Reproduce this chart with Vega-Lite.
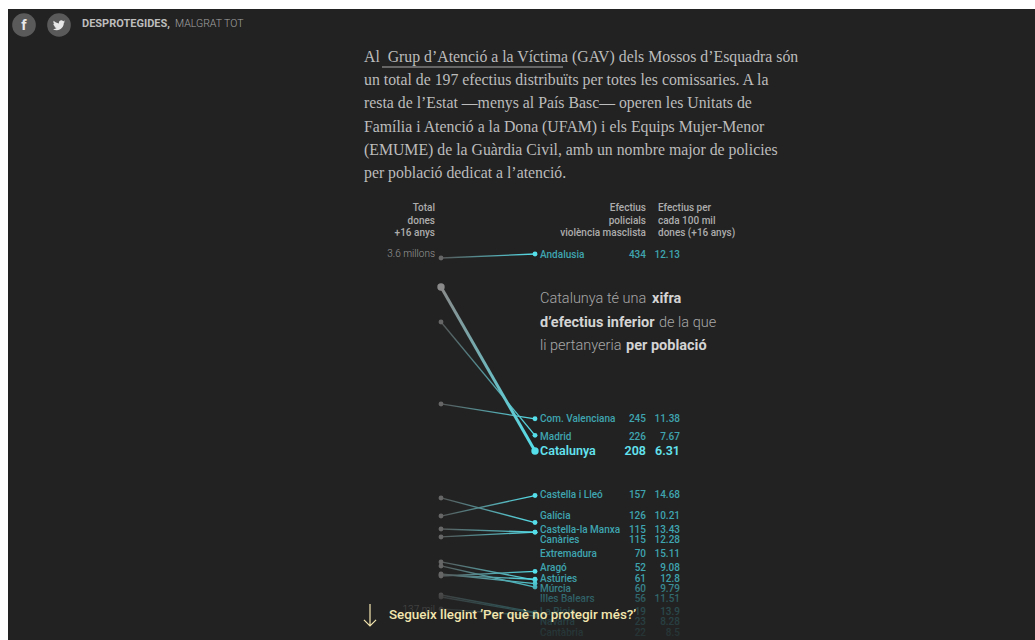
{
"$schema":"https://vega.github.io/schema/vega-lite/v6.json",
"width":1027,"height":631,"autosize":{"type":"none"},
"padding":{"left":8,"top":9,"right":0,"bottom":0},
"background":"#ffffff",
"view":{"fill":"#222222","stroke":null},
"config":{"font":"Roboto"},
"datasets":{
"comunitats":[
{"comunitat":"Andalusia","nivell_dones":429.4,"efectius":434,"taxa":"12.13","nivell_etiqueta":434},
{"comunitat":"Catalunya","nivell_dones":396.2,"efectius":208,"taxa":"6.31","nivell_etiqueta":208},
{"comunitat":"Madrid","nivell_dones":356,"efectius":226,"taxa":"7.67","nivell_etiqueta":225.3},
{"comunitat":"Com. Valenciana","nivell_dones":262,"efectius":245,"taxa":"11.38","nivell_etiqueta":246},
{"comunitat":"Castella i Lleó","nivell_dones":133.5,"efectius":157,"taxa":"14.68","nivell_etiqueta":158},
{"comunitat":"Galícia","nivell_dones":154.2,"efectius":126,"taxa":"10.21","nivell_etiqueta":134.7},
{"comunitat":"Castella-la Manxa","nivell_dones":109.5,"efectius":115,"taxa":"13.43","nivell_etiqueta":118.6},
{"comunitat":"Canàries","nivell_dones":118.6,"efectius":115,"taxa":"12.28","nivell_etiqueta":107.2},
{"comunitat":"Extremadura","nivell_dones":64.7,"efectius":70,"taxa":"15.11","nivell_etiqueta":91.1},
{"comunitat":"Aragó","nivell_dones":76.2,"efectius":52,"taxa":"9.08","nivell_etiqueta":75},
{"comunitat":"Astúries","nivell_dones":65.9,"efectius":61,"taxa":"12.8","nivell_etiqueta":62.4},
{"comunitat":"Múrcia","nivell_dones":80.8,"efectius":60,"taxa":"9.79","nivell_etiqueta":51},
{"comunitat":"Illes Balears","nivell_dones":67,"efectius":56,"taxa":"11.51","nivell_etiqueta":39.5},
{"comunitat":"La Rioja","nivell_dones":26.9,"efectius":19,"taxa":"13.9","nivell_etiqueta":24.6},
{"comunitat":"Navarra","nivell_dones":42.9,"efectius":23,"taxa":"8.28","nivell_etiqueta":13},
{"comunitat":"Cantàbria","nivell_dones":40.6,"efectius":22,"taxa":"8.5","nivell_etiqueta":0.5}
],
"paragraf":[
{"linia":1,"text":"Al \u00a0Grup d’Atenció a la Víctima (GAV) dels Mossos d’Esquadra són"},
{"linia":2,"text":"un total de 197 efectius distribuïts per totes les comissaries. A la"},
{"linia":3,"text":"resta de l’Estat —menys al País Basc— operen les Unitats de"},
{"linia":4,"text":"Família i Atenció a la Dona (UFAM) i els Equips Mujer-Menor"},
{"linia":5,"text":"(EMUME) de la Guàrdia Civil, amb un nombre major de policies"},
{"linia":6,"text":"per població dedicat a l’atenció."}
]
},
"resolve":{"scale":{"x":"independent","y":"independent","color":"independent","size":"independent"}},
"layer":[
{"data":{"name":"comunitats"},
"transform":[{"filter":"datum.comunitat !== 'Catalunya'"},{"fold":["nivell_dones","efectius"],"as":["eix","nivell"]}],
"mark":{"type":"line","strokeWidth":1.3,"stroke":{"gradient":"linear","x1":0,"y1":0,"x2":1,"y2":0,"stops":[{"offset":0,"color":"#555555"},{"offset":1,"color":"#55dfea"}]}},
"encoding":{
"x":{"field":"eix","type":"nominal","axis":null,"scale":{"domain":["nivell_dones","efectius"],"range":[433,527],"padding":0}},
"y":{"field":"nivell","type":"quantitative","axis":null,"scale":{"domain":[-8.7,715],"range":[631,0],"nice":false,"zero":false}},
"detail":{"field":"comunitat"}}},
{"data":{"name":"comunitats"},
"transform":[{"filter":"datum.comunitat !== 'Catalunya'"},{"fold":["nivell_dones","efectius"],"as":["eix","nivell"]}],
"mark":{"type":"circle","size":24,"opacity":1},
"encoding":{
"x":{"field":"eix","type":"nominal","axis":null,"scale":{"domain":["nivell_dones","efectius"],"range":[433,527],"padding":0}},
"y":{"field":"nivell","type":"quantitative","axis":null,"scale":{"domain":[-8.7,715],"range":[631,0],"nice":false,"zero":false}},
"color":{"field":"eix","type":"nominal","legend":null,"scale":{"domain":["nivell_dones","efectius"],"range":["#666666","#55dfea"]}}}},
{"data":{"name":"comunitats"},
"transform":[{"filter":"datum.comunitat === 'Catalunya'"},{"fold":["nivell_dones","efectius"],"as":["eix","nivell"]}],
"mark":{"type":"line","strokeWidth":3,"stroke":{"gradient":"linear","x1":0,"y1":0,"x2":1,"y2":0,"stops":[{"offset":0,"color":"#8a8a8a"},{"offset":1,"color":"#55dfea"}]}},
"encoding":{
"x":{"field":"eix","type":"nominal","axis":null,"scale":{"domain":["nivell_dones","efectius"],"range":[433,527],"padding":0}},
"y":{"field":"nivell","type":"quantitative","axis":null,"scale":{"domain":[-8.7,715],"range":[631,0],"nice":false,"zero":false}}}},
{"data":{"name":"comunitats"},
"transform":[{"filter":"datum.comunitat === 'Catalunya'"},{"fold":["nivell_dones","efectius"],"as":["eix","nivell"]}],
"mark":{"type":"circle","size":55,"opacity":1},
"encoding":{
"x":{"field":"eix","type":"nominal","axis":null,"scale":{"domain":["nivell_dones","efectius"],"range":[433,527],"padding":0}},
"y":{"field":"nivell","type":"quantitative","axis":null,"scale":{"domain":[-8.7,715],"range":[631,0],"nice":false,"zero":false}},
"color":{"field":"eix","type":"nominal","legend":null,"scale":{"domain":["nivell_dones","efectius"],"range":["#8a8a8a","#55dfea"]}}}},
{"data":{"name":"comunitats"},
"transform":[{"filter":"datum.comunitat !== 'Catalunya'"}],
"mark":{"type":"text","align":"left","baseline":"middle","dy":0.7,"fontSize":10,"fontWeight":500,"color":"#3fa5b0"},
"encoding":{
"x":{"datum":"nom","type":"nominal","axis":null,"scale":{"domain":["nom"],"range":[532,532]}},
"y":{"field":"nivell_etiqueta","type":"quantitative","axis":null,"scale":{"domain":[-8.7,715],"range":[631,0],"nice":false,"zero":false}},
"text":{"field":"comunitat"}}},
{"data":{"name":"comunitats"},
"transform":[{"filter":"datum.comunitat !== 'Catalunya'"}],
"mark":{"type":"text","align":"right","baseline":"middle","dy":0.7,"fontSize":10,"fontWeight":500,"color":"#3fa5b0"},
"encoding":{
"x":{"datum":"efectius","type":"nominal","axis":null,"scale":{"domain":["efectius"],"range":[638,638]}},
"y":{"field":"nivell_etiqueta","type":"quantitative","axis":null,"scale":{"domain":[-8.7,715],"range":[631,0],"nice":false,"zero":false}},
"text":{"field":"efectius"}}},
{"data":{"name":"comunitats"},
"transform":[{"filter":"datum.comunitat !== 'Catalunya'"}],
"mark":{"type":"text","align":"right","baseline":"middle","dy":0.7,"fontSize":10,"fontWeight":500,"color":"#3fa5b0"},
"encoding":{
"x":{"datum":"taxa","type":"nominal","axis":null,"scale":{"domain":["taxa"],"range":[672,672]}},
"y":{"field":"nivell_etiqueta","type":"quantitative","axis":null,"scale":{"domain":[-8.7,715],"range":[631,0],"nice":false,"zero":false}},
"text":{"field":"taxa"}}},
{"data":{"name":"comunitats"},
"transform":[{"filter":"datum.comunitat === 'Catalunya'"}],
"mark":{"type":"text","align":"left","baseline":"middle","fontSize":12.5,"fontWeight":600,"color":"#62e3ef"},
"encoding":{
"x":{"datum":"nom","type":"nominal","axis":null,"scale":{"domain":["nom"],"range":[532,532]}},
"y":{"field":"nivell_etiqueta","type":"quantitative","axis":null,"scale":{"domain":[-8.7,715],"range":[631,0],"nice":false,"zero":false}},
"text":{"field":"comunitat"}}},
{"data":{"name":"comunitats"},
"transform":[{"filter":"datum.comunitat === 'Catalunya'"}],
"mark":{"type":"text","align":"right","baseline":"middle","fontSize":12.5,"fontWeight":600,"color":"#62e3ef"},
"encoding":{
"x":{"datum":"efectius","type":"nominal","axis":null,"scale":{"domain":["efectius"],"range":[638,638]}},
"y":{"field":"nivell_etiqueta","type":"quantitative","axis":null,"scale":{"domain":[-8.7,715],"range":[631,0],"nice":false,"zero":false}},
"text":{"field":"efectius"}}},
{"data":{"name":"comunitats"},
"transform":[{"filter":"datum.comunitat === 'Catalunya'"}],
"mark":{"type":"text","align":"right","baseline":"middle","fontSize":12.5,"fontWeight":600,"color":"#62e3ef"},
"encoding":{
"x":{"datum":"taxa","type":"nominal","axis":null,"scale":{"domain":["taxa"],"range":[672,672]}},
"y":{"field":"nivell_etiqueta","type":"quantitative","axis":null,"scale":{"domain":[-8.7,715],"range":[631,0],"nice":false,"zero":false}},
"text":{"field":"taxa"}}},
{"data":{"values":[{"text":"3.6 millons","nivell":434.5},{"text":"137 mil","nivell":26}]},
"mark":{"type":"text","align":"right","baseline":"middle","fontSize":10,"fontWeight":300,"color":"#9a9a9a"},
"encoding":{
"x":{"datum":"dones","type":"nominal","axis":null,"scale":{"domain":["dones"],"range":[427,427]}},
"y":{"field":"nivell","type":"quantitative","axis":null,"scale":{"domain":[-8.7,715],"range":[631,0],"nice":false,"zero":false}},
"text":{"field":"text"}}},
{"data":{"values":[{"linia":1,"text":"Total"},{"linia":2,"text":"dones"},{"linia":3,"text":"+16 anys"}]},
"mark":{"type":"text","align":"right","baseline":"middle","fontSize":10,"fontWeight":500,"color":"#adadad"},
"encoding":{
"x":{"datum":"dones","type":"nominal","axis":null,"scale":{"domain":["dones"],"range":[427,427]}},
"y":{"field":"linia","type":"ordinal","axis":null,"scale":{"domain":[1,2,3],"range":[199,224],"padding":0}},
"text":{"field":"text"}}},
{"data":{"values":[{"linia":1,"text":"Efectius"},{"linia":2,"text":"policials"},{"linia":3,"text":"violència masclista"}]},
"mark":{"type":"text","align":"right","baseline":"middle","fontSize":10,"fontWeight":500,"color":"#adadad"},
"encoding":{
"x":{"datum":"efectius","type":"nominal","axis":null,"scale":{"domain":["efectius"],"range":[638,638]}},
"y":{"field":"linia","type":"ordinal","axis":null,"scale":{"domain":[1,2,3],"range":[199,224],"padding":0}},
"text":{"field":"text"}}},
{"data":{"values":[{"linia":1,"text":"Efectius per"},{"linia":2,"text":"cada 100 mil"},{"linia":3,"text":"dones (+16 anys)"}]},
"mark":{"type":"text","align":"left","baseline":"middle","fontSize":10,"fontWeight":500,"color":"#adadad"},
"encoding":{
"x":{"datum":"taxa","type":"nominal","axis":null,"scale":{"domain":["taxa"],"range":[650,650]}},
"y":{"field":"linia","type":"ordinal","axis":null,"scale":{"domain":[1,2,3],"range":[199,224],"padding":0}},
"text":{"field":"text"}}},
{"data":{"values":[{"linia":1,"text":"Catalunya té una"},{"linia":3,"text":"li pertanyeria"}]},
"mark":{"type":"text","align":"left","baseline":"middle","fontSize":14.5,"fontWeight":300,"color":"#a8a8a8"},
"encoding":{
"x":{"datum":"nota","type":"nominal","axis":null,"scale":{"domain":["nota"],"range":[532,532]}},
"y":{"field":"linia","type":"ordinal","axis":null,"scale":{"domain":[1,2,3],"range":[290,337],"padding":0}},
"text":{"field":"text"}}},
{"data":{"values":[{"linia":2,"text":"de la que"}]},
"mark":{"type":"text","align":"left","baseline":"middle","fontSize":14.5,"fontWeight":300,"color":"#a8a8a8"},
"encoding":{
"x":{"datum":"nota","type":"nominal","axis":null,"scale":{"domain":["nota"],"range":[651,651]}},
"y":{"field":"linia","type":"ordinal","axis":null,"scale":{"domain":[1,2,3],"range":[290,337],"padding":0}},
"text":{"field":"text"}}},
{"data":{"values":[{"linia":1,"text":"xifra"}]},
"mark":{"type":"text","align":"left","baseline":"middle","fontSize":14.5,"fontWeight":700,"color":"#d4d4d4"},
"encoding":{
"x":{"datum":"nota","type":"nominal","axis":null,"scale":{"domain":["nota"],"range":[644,644]}},
"y":{"field":"linia","type":"ordinal","axis":null,"scale":{"domain":[1,2,3],"range":[290,337],"padding":0}},
"text":{"field":"text"}}},
{"data":{"values":[{"linia":2,"text":"d’efectius inferior"}]},
"mark":{"type":"text","align":"left","baseline":"middle","fontSize":14.5,"fontWeight":700,"color":"#d4d4d4"},
"encoding":{
"x":{"datum":"nota","type":"nominal","axis":null,"scale":{"domain":["nota"],"range":[532,532]}},
"y":{"field":"linia","type":"ordinal","axis":null,"scale":{"domain":[1,2,3],"range":[290,337],"padding":0}},
"text":{"field":"text"}}},
{"data":{"values":[{"linia":3,"text":"per població"}]},
"mark":{"type":"text","align":"left","baseline":"middle","fontSize":14.5,"fontWeight":700,"color":"#d4d4d4"},
"encoding":{
"x":{"datum":"nota","type":"nominal","axis":null,"scale":{"domain":["nota"],"range":[618,618]}},
"y":{"field":"linia","type":"ordinal","axis":null,"scale":{"domain":[1,2,3],"range":[290,337],"padding":0}},
"text":{"field":"text"}}},
{"data":{"name":"paragraf"},
"mark":{"type":"text","align":"left","baseline":"middle","font":"Liberation Serif","fontSize":15.8,"color":"#bcbcbc"},
"encoding":{
"x":{"datum":"text","type":"nominal","axis":null,"scale":{"domain":["text"],"range":[356,356]}},
"y":{"field":"linia","type":"ordinal","axis":null,"scale":{"domain":[1,2,3,4,5,6],"range":[48,164],"padding":0}},
"text":{"field":"text"}}},
{"data":{"values":[{"extrem":"inici"},{"extrem":"fi"}]},
"mark":{"type":"line","strokeWidth":2,"stroke":"#666666"},
"encoding":{
"x":{"field":"extrem","type":"nominal","axis":null,"scale":{"domain":["inici","fi"],"range":[374,555],"padding":0}},
"y":{"datum":"enllaç","type":"nominal","axis":null,"scale":{"domain":["enllaç"],"range":[58,58]}}}},
{"data":{"values":[{"xarxa":"facebook"},{"xarxa":"twitter"}]},
"mark":{"type":"circle","size":560,"color":"#5a5a5a","opacity":1},
"encoding":{
"x":{"field":"xarxa","type":"nominal","axis":null,"scale":{"domain":["facebook","twitter"],"range":[16,51],"padding":0}},
"y":{"datum":"capçalera","type":"nominal","axis":null,"scale":{"domain":["capçalera"],"range":[16,16]}}}},
{"data":{"values":[{"text":"f"}]},
"mark":{"type":"text","align":"center","baseline":"middle","fontSize":15,"fontWeight":700,"color":"#e8e8e8"},
"encoding":{
"x":{"datum":"facebook","type":"nominal","axis":null,"scale":{"domain":["facebook"],"range":[16,16]}},
"y":{"datum":"capçalera","type":"nominal","axis":null,"scale":{"domain":["capçalera"],"range":[16,16]}},
"text":{"field":"text"}}},
{"data":{"values":[{"xarxa":"twitter"}]},
"mark":{"type":"point","filled":true,"size":196,"opacity":1,"color":"#e8e8e8","shape":"M0.87,-0.5 C0.81,-0.47 0.74,-0.45 0.67,-0.44 C0.74,-0.49 0.80,-0.56 0.82,-0.64 C0.75,-0.60 0.68,-0.57 0.60,-0.55 C0.53,-0.63 0.44,-0.67 0.33,-0.67 C0.14,-0.67 -0.02,-0.51 -0.02,-0.31 C-0.02,-0.28 -0.02,-0.25 -0.01,-0.23 C-0.31,-0.24 -0.57,-0.39 -0.75,-0.60 C-0.78,-0.55 -0.80,-0.49 -0.80,-0.42 C-0.80,-0.30 -0.74,-0.19 -0.64,-0.13 C-0.70,-0.13 -0.75,-0.14 -0.80,-0.17 C-0.80,-0.17 -0.80,-0.17 -0.80,-0.16 C-0.80,0.01 -0.68,0.15 -0.52,0.19 C-0.55,0.20 -0.58,0.20 -0.61,0.20 C-0.63,0.20 -0.65,0.20 -0.68,0.19 C-0.63,0.33 -0.50,0.44 -0.34,0.44 C-0.46,0.54 -0.62,0.59 -0.79,0.59 C-0.82,0.59 -0.84,0.59 -0.87,0.59 C-0.71,0.69 -0.53,0.75 -0.32,0.75 C0.33,0.75 0.69,0.21 0.69,-0.27 C0.69,-0.28 0.69,-0.30 0.69,-0.31 C0.76,-0.36 0.82,-0.43 0.87,-0.5Z"},
"encoding":{
"x":{"field":"xarxa","type":"nominal","axis":null,"scale":{"domain":["twitter"],"range":[51,51]}},
"y":{"datum":"capçalera","type":"nominal","axis":null,"scale":{"domain":["capçalera"],"range":[16,16]}}}},
{"data":{"values":[{"text":"DESPROTEGIDES,"}]},
"mark":{"type":"text","align":"left","baseline":"middle","fontSize":11,"fontWeight":700,"color":"#bdbdbd"},
"encoding":{
"x":{"datum":"titol","type":"nominal","axis":null,"scale":{"domain":["titol"],"range":[74,74]}},
"y":{"datum":"capçalera","type":"nominal","axis":null,"scale":{"domain":["capçalera"],"range":[15,15]}},
"text":{"field":"text"}}},
{"data":{"values":[{"text":"MALGRAT TOT"}]},
"mark":{"type":"text","align":"left","baseline":"middle","fontSize":10.5,"fontWeight":300,"color":"#a5a5a5"},
"encoding":{
"x":{"datum":"titol","type":"nominal","axis":null,"scale":{"domain":["titol"],"range":[167,167]}},
"y":{"datum":"capçalera","type":"nominal","axis":null,"scale":{"domain":["capçalera"],"range":[15,15]}},
"text":{"field":"text"}}},
{"data":{"values":[{"capa":"esvaïment"}]},
"mark":{"type":"rect","stroke":null,"fill":{"gradient":"linear","x1":0,"y1":0,"x2":0,"y2":1,"stops":[{"offset":0,"color":"rgba(34,34,34,0)"},{"offset":0.4,"color":"rgba(34,34,34,0.65)"},{"offset":1,"color":"rgba(34,34,34,0.9)"}]}},
"encoding":{
"y":{"datum":62,"type":"quantitative","axis":null,"scale":{"domain":[-8.7,715],"range":[631,0],"nice":false,"zero":false}},
"y2":{"datum":-8.7}}},
{"data":{"values":[{"fletxa":"seguir"}]},
"mark":{"type":"point","filled":false,"size":484,"opacity":1,"strokeWidth":1.2,"color":"#f3e6ae","shape":"M0,-1 L0,1 M-0.55,0.45 L0,1 L0.55,0.45"},
"encoding":{
"x":{"field":"fletxa","type":"nominal","axis":null,"scale":{"domain":["seguir"],"range":[362,362]}},
"y":{"datum":"peu","type":"nominal","axis":null,"scale":{"domain":["peu"],"range":[606,606]}}}},
{"data":{"values":[{"text":"Segueix llegint ’Per què no protegir més?’"}]},
"mark":{"type":"text","align":"left","baseline":"middle","fontSize":13.4,"fontWeight":500,"color":"#f3e6ae"},
"encoding":{
"x":{"datum":"peu","type":"nominal","axis":null,"scale":{"domain":["peu"],"range":[381,381]}},
"y":{"datum":"peu","type":"nominal","axis":null,"scale":{"domain":["peu"],"range":[606,606]}},
"text":{"field":"text"}}}
]
}
